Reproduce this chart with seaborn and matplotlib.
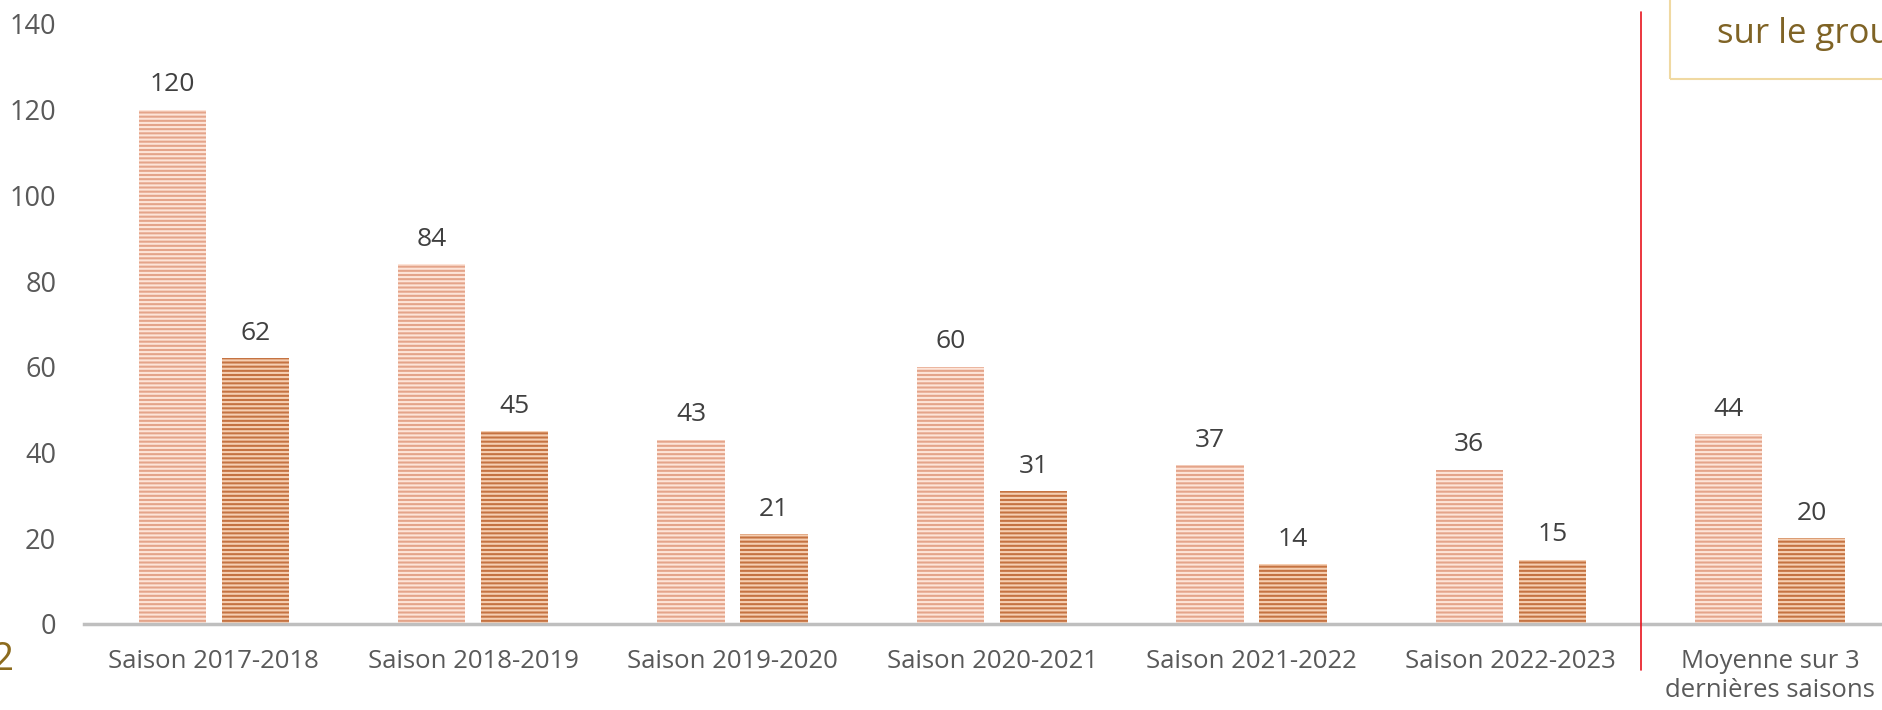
import pandas as pd
import matplotlib
matplotlib.use("Agg")
import matplotlib.pyplot as plt
import matplotlib.patches as mpatches
import seaborn as sns

categories = ["Saison 2017-2018", "Saison 2018-2019", "Saison 2019-2020",
              "Saison 2020-2021", "Saison 2021-2022", "Saison 2022-2023",
              "Moyenne sur 3\ndernières saisons"]
serie_1 = [120, 84, 43, 60, 37, 36, 44.3]
serie_2 = [62, 45, 21, 31, 14, 15, 20]
y_ticks = [0, 20, 40, 60, 80, 100, 120, 140]

df = pd.DataFrame({
    "categorie": categories * 2,
    "valeur": serie_1 + serie_2,
    "serie": ["Série 1"] * len(categories) + ["Série 2"] * len(categories),
})

sns.set_style("white")
plt.rcParams["font.family"] = ["Open Sans", "DejaVu Sans"]
plt.rcParams["hatch.linewidth"] = 1.5

W, H = 1883, 710
fig = plt.figure(figsize=(W / 100, H / 100), dpi=100)
ax = fig.add_axes([84 / W, 86 / H, (1900 - 84) / W, 600 / H])

face = {"Série 1": "#F39E7B", "Série 2": "#DB6E2C"}
stripe = {"Série 1": "#FDE4D8", "Série 2": "#F6CFB2"}

sns.barplot(data=df, x="categorie", y="valeur", hue="serie", order=categories,
            palette=face, width=0.64, gap=0.19, legend=False, ax=ax)

for cont, name in zip(ax.containers, ["Série 1", "Série 2"]):
    for p in cont:
        p.set_hatch("----")
        p.set_edgecolor(stripe[name])
        p.set_linewidth(0)
    ax.bar_label(cont, labels=[f"{v:.0f}" for v in cont.datavalues],
                 padding=9, fontsize=19, color="#404040")

ax.set_xlim(-0.5, len(categories) - 0.5)
ax.set_ylim(0, 140)
ax.set_yticks(y_ticks)
ax.set_xlabel("")
ax.set_ylabel("")
ax.tick_params(axis="y", length=0, pad=20, labelsize=19.5, labelcolor="#595959")
ax.tick_params(axis="x", length=0, pad=18, labelsize=18.5, labelcolor="#595959")
for s in ["left", "right", "top"]:
    ax.spines[s].set_visible(False)
ax.spines["bottom"].set_color("#BFBFBF")
ax.spines["bottom"].set_linewidth(2.5)

# separation avant la moyenne
ax.plot([5.5, 5.5], [-10.7, 142.8], color="#E8141E", lw=1.2, clip_on=False, zorder=5)

# encadre en haut a droite (coupe)
fig.add_artist(mpatches.Rectangle((1670 / W, (H - 79) / H), 300 / W, 120 / H,
                                  transform=fig.transFigure, fill=False,
                                  edgecolor="#F0D9A2", lw=1.5))
fig.text(1717 / W, (H - 43) / H, "sur le groupe", fontsize=25, color="#7F6325",
         va="baseline", ha="left")
fig.text(13 / W, (H - 660) / H, "2", fontsize=28, color="#8C6B1E",
         va="center", ha="right")

fig.savefig("out.png", dpi=100)
